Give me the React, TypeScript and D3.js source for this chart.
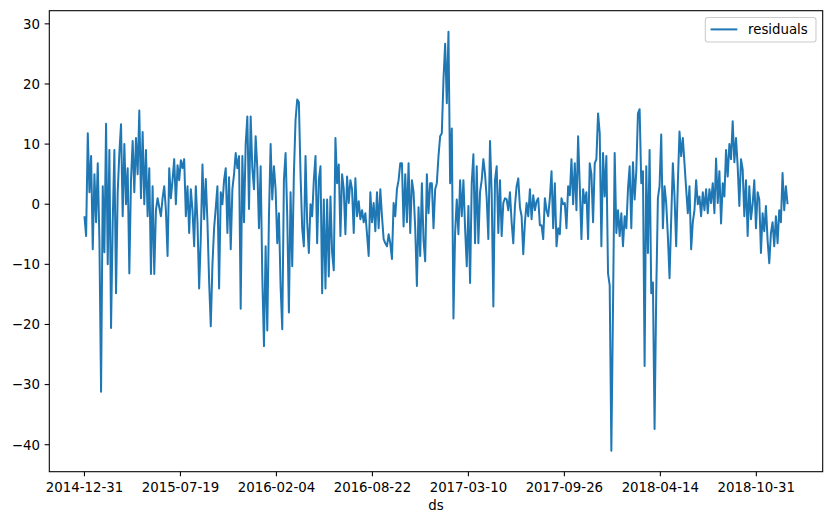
import React from "react";
import * as d3 from "d3";

const startDate = "2014-12-31";
const endDate = "2019-01-04";
const seriesName = "residuals";
const xLabel = "ds";
const xTickLabels = [
  "2014-12-31", "2015-07-19", "2016-02-04", "2016-08-22",
  "2017-03-10", "2017-09-26", "2018-04-14", "2018-10-31",
];
const yTicks = [-40, -30, -20, -10, 0, 10, 20, 30];

const residuals2015a = [
  -2, -5.3, 11.8, 2, 8, -7.5, 5, -3, 6.8, -6, -31.2, 3, -8, 13.4, -10, 9, -20.6, -3, 9, -14.8,
  2, 8.5, 13.3, -2, 10, 0, 6, -11.5, 4, 10.5, 2, 11, 5, 15.6, 1, 12, 0, 9, -2, 6, -11.6, 3, -11.6, -1, 1,
];
const residuals2015b = [
  -0.5, -2, 1, 3, -1, -8.6, 6, 1, 4, 7.5, 0, 6.5, 4, 7.3, 6, 7.5, -2, 3, -4.8, 2.5, -1, -7, 3, -3,
  -14, -5.5, 6.6, -2.5, 4.2, -3, -12.8, -20.3, -10, -4, -0.6, 3, -14, 2, 0, 4, 6, -4.8, 4.5, -7.5, 2.5, 5, 8.5, 6,
];
const residuals2016a = [
  8, -17.4, 8, -3, 10, 14.6, -0.8, 14.6, 6, 2.5, 11.3, 6, -4, 6.3, -12, -23.6, -7, -21, -2, 10, 0.8, 6.3,
  2.5, -6.5, -1.5, -13.6, -20.8, 4, 8.5, -2, -18, 2, -10.3, 5, 14, 17.4, 17, 5, -4, -7, 8, -3, -8.1, 0, -2, 4, 8, -6.5, 4,
];
const residuals2016b = [
  6.3, -14.8, 0.8, -14, 0.8, -12, 1.3, -8, -11, 11, 3.5, 6.6, -5.3, 5, 2.5, -5, 4.6, 0.2, 4, 2.5, -4.8, 4.3,
  -2, 0.5, -2.5, -1, -3, -1.5, -5, -8.6, 2, -3, 0.2, -4.5, 2, -4, 2.5, -2, -5.8, -6.5, -7, -5, -6.5, -9.1, 0.2, -2, 2.5, 4, 6.8,
];
const residuals2017a = [
  6.8, -3.7, 5, -3, 6.8, -4.8, 4, 2, -4, -13.6, -0.5, -8.6, 3.5, -6, -9.5, 5, -1.5, 3.5, 3.5, -4, 2.5, 3.5,
  8, 11.3, 11.8, 20.8, 26.7, 16.8, 28.7, 3.5, 12.6, -19, -4.8, 0.8, -5, 4, -2, 4, -4, -10.3, -0.3, -13.1, 3.5, 8.3, -6.5, 6.3, -6.5, 2, 4,
];
const residuals2017b = [
  7.5, 5, 1, -5.8, 10.5, 1.8, -17, 4, 6.3, -4.8, 4, -5.3, 0.2, 1, 0.8, -1, 2, -3, -6.5, -0.3, 3, 4.3, -0.5,
  -2, -8.3, -3, 0.2, -2, 2.5, -2.5, 1.5, -1, 0.5, 1, -3.5, -3.5, -5.8, 1, -1, -2, 1, 5.5, -4, 3.5, -7, -4, -5, 1, 0,
];
const residuals2018a = [
  0.2, -4, 3, 1.5, 7.5, 0, 6.8, -1, 11.3, 3, -5.8, 2.5, 0.2, 2, -5.8, 6.8, 5, -3, 6.8, 7.5, 15.1, 11.8, -7,
  8.5, 1.3, 8, -11.5, -13.5, -41, -17, 8.5, -4.8, -1, -5.3, -1.5, -7, -2, -4, 2.5, 6.3, -4, 7, 0.8, 5.5, 15.1, 15.8, 3.5, 5.5, -26.9,
];
const residuals2018b = [
  6.3, -8.1, 9, -14.8, -13, -37.4, -14.8, 1, 3, 11.6, -4, 3, 0.2, -5.3, -12.3, -2.5, 6.8, 1.3, -7, 3.5, 12.1,
  8, 11, 6.8, 2.5, -1.5, 3, -7.5, -3, -1, 4, 0, 1.3, -2, 2, -1, 2.5, -1.5, 2.5, 0.2, 3.5, -1.5, 7.6, 0.2, 5.5, -3.2, 3.5, 1.3, 9,
];
const residuals2018c = [
  4.6, 10, 7.5, 13.8, 7, 11, 6.3, -0.3, 7.5, 5.8, -2, 4, -5.3, 3, -2.5, 0, 4, -4, 2, 0.8, -8.1, -1.5, -4.5,
  -0.3, -6, -9.8, -4.8, -3, -7, -2, -6.5, -1, -3, 5.2, -1, 3, 0,
];

const residuals = [
  ...residuals2015a, ...residuals2015b, ...residuals2016a, ...residuals2016b,
  ...residuals2017a, ...residuals2017b, ...residuals2018a, ...residuals2018b, ...residuals2018c,
];

const W = 833;
const H = 525;
const M = { left: 49.3, right: 822.7, top: 10.7, bottom: 471.7 };
const FONT = "'DejaVu Sans', sans-serif";
const FS = 13.33;
const COLOR = "#1f77b4";

export default function App() {
  const parse = d3.utcParse("%Y-%m-%d");
  const t0 = parse(startDate)!;
  const t1 = parse(endDate)!;
  const n = residuals.length;
  const idxToTime = d3.scaleLinear().domain([0, n - 1]).range([+t0, +t1]);
  const dates = residuals.map((_, i) => new Date(idxToTime(i)));
  const span = +t1 - +t0;
  const x = d3
    .scaleUtc()
    .domain([new Date(+t0 - 0.05 * span), new Date(+t1 + 0.05 * span)])
    .range([M.left, M.right]);
  const [mn, mx] = d3.extent(residuals) as [number, number];
  const yr = mx - mn;
  const y = d3
    .scaleLinear()
    .domain([mn - 0.05 * yr, mx + 0.05 * yr])
    .range([M.bottom, M.top]);

  const line = d3
    .line<number>()
    .x((_, i) => x(dates[i]))
    .y((d) => y(d));

  const tickLen = 4.67;
  const pad = 4.67;

  const legX = 705.3;
  const legY = 17.5;
  const legW = 816 - 705.3;
  const legH = 24.5;

  return (
    <svg
      width={W}
      height={H}
      style={{ position: "absolute", left: 0, top: 0, display: "block", background: "#fff" }}
      fontFamily={FONT}
    >
      <rect x={0} y={0} width={W} height={H} fill="#fff" />
      <defs>
        <clipPath id="plotclip">
          <rect x={M.left} y={M.top} width={M.right - M.left} height={M.bottom - M.top} />
        </clipPath>
      </defs>
      <path
        d={line(residuals) || ""}
        fill="none"
        stroke={COLOR}
        strokeWidth={2}
        strokeLinejoin="round"
        strokeLinecap="butt"
        clipPath="url(#plotclip)"
      />
      <rect
        x={M.left}
        y={M.top}
        width={M.right - M.left}
        height={M.bottom - M.top}
        fill="none"
        stroke="#000"
        strokeWidth={1.07}
      />
      {yTicks.map((t) => (
        <g key={"y" + t}>
          <line x1={M.left - tickLen} x2={M.left} y1={y(t)} y2={y(t)} stroke="#000" strokeWidth={1.07} />
          <text x={M.left - tickLen - pad} y={y(t) + 4.8} textAnchor="end" fontSize={FS} fill="#000">
            {t < 0 ? "\u2212" + Math.abs(t) : String(t)}
          </text>
        </g>
      ))}
      {xTickLabels.map((s) => {
        const xv = x(parse(s)!);
        return (
          <g key={s}>
            <line x1={xv} x2={xv} y1={M.bottom} y2={M.bottom + tickLen} stroke="#000" strokeWidth={1.07} />
            <text x={xv} y={492.3} textAnchor="middle" fontSize={FS} fill="#000">
              {s}
            </text>
          </g>
        );
      })}
      <text x={(M.left + M.right) / 2} y={510} textAnchor="middle" fontSize={FS} fill="#000">
        {xLabel}
      </text>
      <rect
        x={legX}
        y={legY}
        width={legW}
        height={legH}
        rx={2.7}
        ry={2.7}
        fill="#fff"
        fillOpacity={0.8}
        stroke="#cccccc"
        strokeWidth={1.07}
      />
      <line x1={legX + 5.3} x2={legX + 5.3 + 26.7} y1={29.4} y2={29.4} stroke={COLOR} strokeWidth={2} />
      <text x={legX + 5.3 + 26.7 + 10.7} y={34.3} fontSize={FS} fill="#000">
        {seriesName}
      </text>
    </svg>
  );
}
